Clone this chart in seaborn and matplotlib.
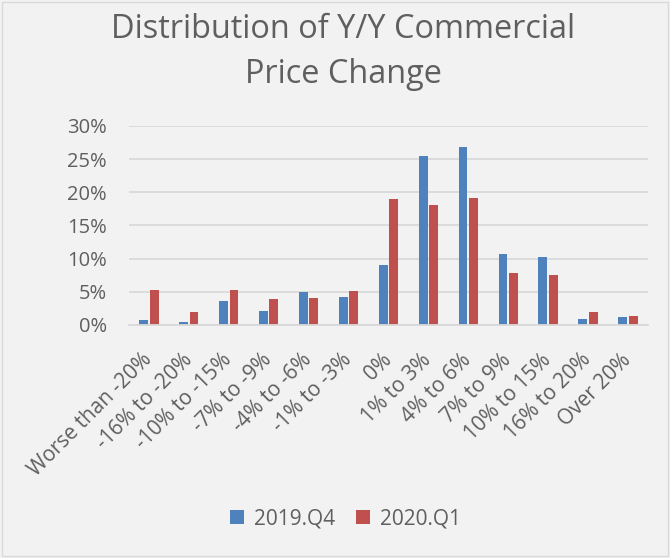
import matplotlib
matplotlib.use("Agg")
import matplotlib.pyplot as plt
import seaborn as sns
import pandas as pd
from matplotlib.ticker import FuncFormatter
from matplotlib.patches import Patch

categories = ["Worse than -20%", "-16% to -20%", "-10% to -15%", "-7% to -9%", "-4% to -6%",
              "-1% to -3%", "0%", "1% to 3%", "4% to 6%", "7% to 9%", "10% to 15%",
              "16% to 20%", "Over 20%"]
q4_2019 = [0.75, 0.4, 3.6, 2.1, 4.9, 4.2, 9.0, 25.5, 26.8, 10.7, 10.3, 0.95, 1.15]
q1_2020 = [5.2, 1.9, 5.2, 3.9, 4.1, 5.1, 19.0, 18.1, 19.2, 7.8, 7.6, 1.95, 1.35]
series = ["2019.Q4", "2020.Q1"]
colors = ["#4F81BD", "#C0504D"]

df = pd.DataFrame({
    "cat": categories * 2,
    "val": q4_2019 + q1_2020,
    "series": [series[0]] * len(categories) + [series[1]] * len(categories),
})

sns.set_theme(style="white")
plt.rcParams['font.family'] = ['Open Sans', 'DejaVu Sans']
bg = "#F2F2F2"
txt = "#5F5F5F"
fig = plt.figure(figsize=(6.7, 5.58), dpi=100, facecolor=bg)
ax = fig.add_axes([0.1925, 0.4176, 0.7745, 0.3566])
ax.set_facecolor(bg)

sns.barplot(data=df, x="cat", y="val", hue="series", palette=colors, order=categories,
            hue_order=series, width=0.52, gap=0.15, ax=ax, legend=False,
            edgecolor="none", linewidth=0, saturation=1)

ax.set_ylim(0, 30)
ax.set_yticks([0, 5, 10, 15, 20, 25, 30])
ax.yaxis.set_major_formatter(FuncFormatter(lambda v, p: f"{int(v)}%"))
ax.grid(axis="y", color="#D9D9D9", linewidth=1.3)
ax.set_axisbelow(True)
for s in ["top", "right", "left"]:
    ax.spines[s].set_visible(False)
ax.spines["bottom"].set_color("#D9D9D9")
ax.spines["bottom"].set_linewidth(1.3)
ax.set_xlim(-0.5, len(categories) - 0.5)
ax.set_xlabel("")
ax.set_ylabel("")
ax.tick_params(axis="both", length=0, colors=txt, labelsize=14.5)
ax.tick_params(axis="y", pad=16)
plt.setp(ax.get_xticklabels(), rotation=45, ha="right", va="center", rotation_mode="anchor",
         fontsize=15)
ax.tick_params(axis="x", pad=23)

fig.text(0.512, 0.932, "Distribution of Y/Y Commercial", ha="center", va="baseline",
         fontsize=23.4, color=txt)
fig.text(0.512, 0.851, "Price Change", ha="center", va="baseline",
         fontsize=23.4, color=txt)

handles = [Patch(facecolor=c, edgecolor="none") for c in colors]
fig.legend(handles, series, loc="center", bbox_to_anchor=(0.516, 0.07), ncol=2, frameon=False,
           fontsize=15, labelcolor=txt, handlelength=0.65, handleheight=0.65,
           handletextpad=0.5, columnspacing=1.0)

border = plt.Rectangle((0.003, 0.003), 0.994, 0.994, transform=fig.transFigure, fill=False,
                       edgecolor="#D9D9D9", linewidth=1)
fig.patches.append(border)

fig.savefig("out.png", dpi=100, facecolor=bg)
